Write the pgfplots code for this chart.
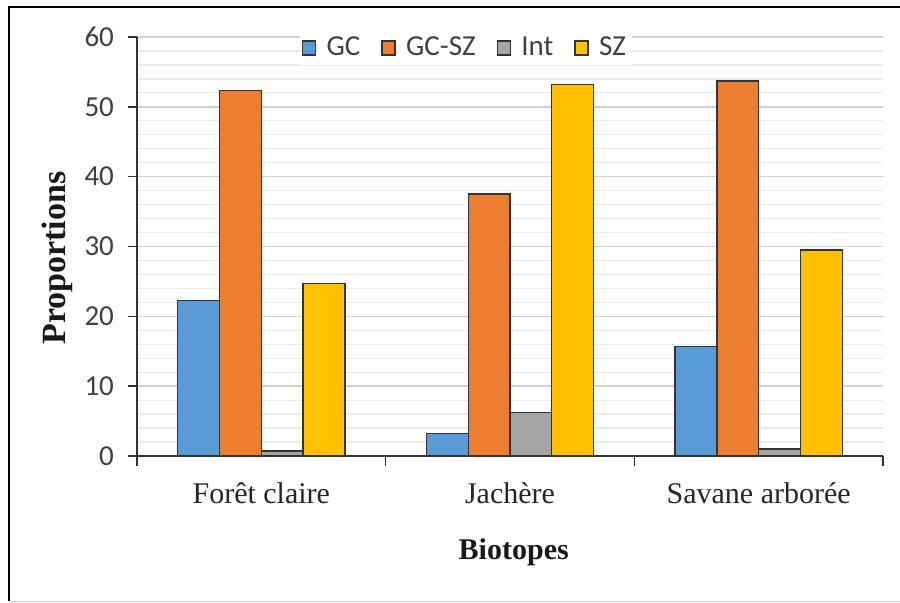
\documentclass[border=0pt]{standalone}
\usepackage{fontspec}
\setmainfont{Carlito}
\newfontfamily\tnr{Liberation Serif}
\usepackage{pgfplots}
\pgfplotsset{compat=1.18}
\definecolor{cGC}{HTML}{5B9BD5}
\definecolor{cGCSZ}{HTML}{ED7D31}
\definecolor{cInt}{HTML}{A5A5A5}
\definecolor{cSZ}{HTML}{FFC000}
\begin{document}
\begin{tikzpicture}[x=1pt,y=1pt]
\path[use as bounding box] (0,0) rectangle (450,301.5);
\draw[black, line width=1pt] (4.5,0.75) -- (4.5,298) -- (450,298);
\draw[gray!40, line width=0.8pt] (4.5,0.75) -- (450,0.75);
\begin{axis}[
  at={(68.5pt,73.5pt)}, anchor=south west,
  scale only axis, width=373pt, height=209.5pt,
  ymin=0, ymax=60, ytick={0,10,...,60}, minor y tick num=4,
  xmin=-0.5, xmax=2.5, xtick={0,1,2},
  xticklabels={Forêt claire,Jachère,Savane arborée},
  minor xtick={-0.5,0.5,1.5,2.5},
  axis x line*=bottom, axis y line*=left,
  axis line style={black!80, line width=0.8pt},
  tick align=outside,
  major tick length=4.5pt, minor tick length=5pt,
  major x tick style={draw=none},
  minor y tick style={draw=none},
  every tick/.style={black!80, line width=0.8pt},
  ymajorgrids=true, yminorgrids=true,
  major grid style={color=black!18, line width=0.8pt},
  minor grid style={color=black!8, line width=0.6pt},
  /pgf/number format/assume math mode=true,
  yticklabel style={font=\fontsize{14.5}{17}\selectfont, text=black!75, xshift=-3.5pt},
  xticklabel style={font=\tnr\fontsize{15}{18}\selectfont, text=black!85, anchor=center, yshift=-14pt},
  xlabel={\tnr\bfseries Biotopes},
  xlabel style={at={(axis description cs:0.505,-0.229)}, anchor=center, font=\fontsize{15}{18}\selectfont, text=black!90},
  ylabel={\tnr\bfseries Proportions},
  ylabel style={at={(axis description cs:-0.1072,0.4725)}, anchor=center, font=\fontsize{17}{20}\selectfont, text=black!90},
  ybar=0pt, bar width=0.168,
  legend columns=4,
  legend style={at={(axis description cs:0.441,0.974)}, anchor=center, draw=none, fill=white,
    font=\fontsize{14.5}{16}\selectfont, text=black!75, inner sep=1pt,
    /tikz/every even column/.append style={column sep=8.5pt}},
  legend image code/.code={\draw[#1, draw=black!80, line width=0.7pt] (0pt,-3.5pt) rectangle (6.5pt,3.5pt); \path[draw=none, fill=none] (0pt,0pt) -- (10pt,0pt);},
]
\addplot[fill=cGC, draw=black!80, line width=0.7pt] coordinates {(0,22.3) (1,3.2) (2,15.7)};
\addplot[fill=cGCSZ, draw=black!80, line width=0.7pt] coordinates {(0,52.3) (1,37.5) (2,53.7)};
\addplot[fill=cInt, draw=black!80, line width=0.7pt] coordinates {(0,0.7) (1,6.2) (2,1.0)};
\addplot[fill=cSZ, draw=black!80, line width=0.7pt] coordinates {(0,24.7) (1,53.2) (2,29.5)};
\legend{GC,GC-SZ,Int,SZ}
\end{axis}
\end{tikzpicture}
\end{document}
